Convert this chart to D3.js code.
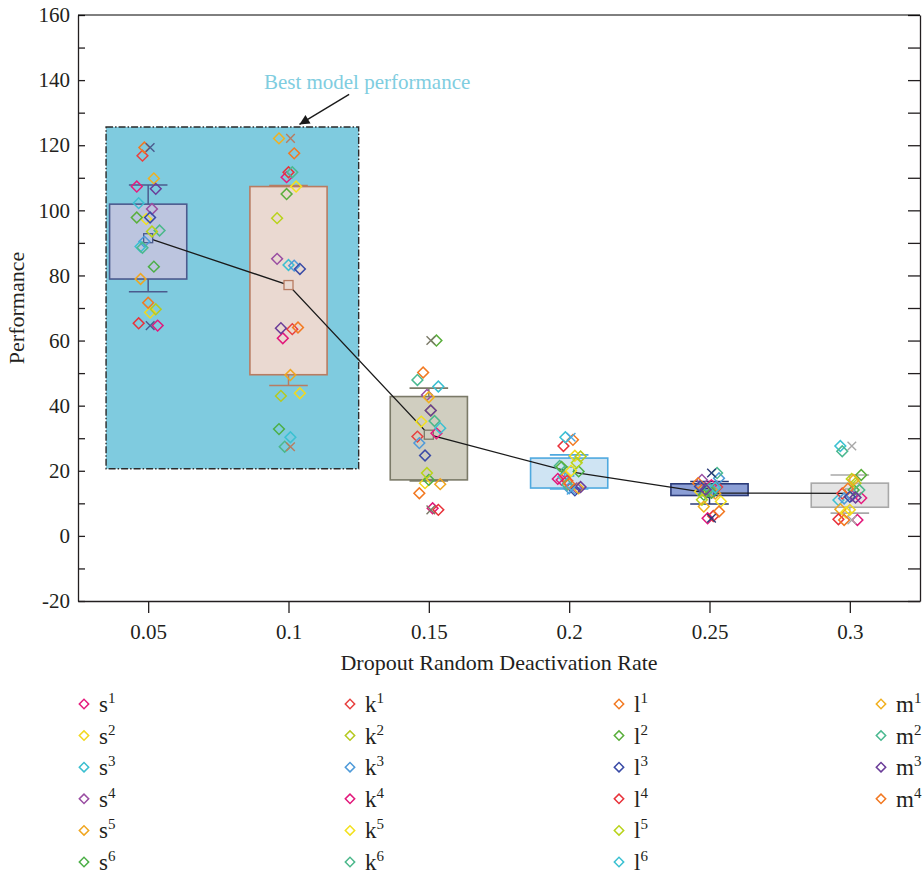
<!DOCTYPE html>
<html>
<head>
<meta charset="utf-8">
<script src="https://cdn.jsdelivr.net/npm/d3@7"></script>
<style>
  body { margin: 0; background: #fff; }
  svg text { font-family: "Liberation Serif", "Times New Roman", serif; fill: #231f20; }
</style>
</head>
<body>
<div class="chart"></div>
<script>
// dropout rates (x categories)
const rates = [0.05, 0.1, 0.15, 0.2, 0.25, 0.3]
const rateLabels = ["0.05", "0.1", "0.15", "0.2", "0.25", "0.3"]
const yTicks = d3.range(-20, 161, 10)

// one value per dropout rate, per run
const s1 = [107.3, 110.2, 31.5, 17.2, 15.6, 11.6]
const s2 = [68.6, 43.8, 16.2, 24.6, 13.6, 8.0]
const s3 = [102.2, 83.2, 45.9, 18.2, 13.8, 11.0]
const s4 = [100.4, 85.1, 43.3, 14.6, 17.2, 12.3]
const s5 = [78.9, 49.4, 15.9, 18.2, 13.0, 8.2]
const s6 = [82.7, 32.8, 17.2, 19.8, 12.6, 14.1]
const k1 = [116.8, 63.5, 30.5, 16.9, 15.0, 13.0]
const k2 = [69.6, 43.0, 38.5, 24.4, 14.0, 16.2]
const k3 = [90.4, 83.0, 28.5, 14.6, 17.7, 11.5]
const k4 = [64.6, 60.7, 8.5, 17.5, 5.4, 4.9]
const k5 = [97.3, 107.3, 35.1, 20.0, 10.6, 7.2]
const k6 = [93.8, 27.4, 35.3, 21.5, 14.5, 14.1]
const l1 = [71.6, 64.0, 50.2, 29.5, 16.2, 14.5]
const l2 = [97.8, 105.0, 60.0, 21.2, 13.2, 18.7]
const l3 = [97.8, 82.0, 24.7, 14.0, 15.2, 12.0]
const l4 = [65.3, 111.7, 8.0, 27.6, 6.1, 5.1]
const l5 = [93.5, 97.6, 19.3, 22.5, 11.1, 17.5]
const l6 = [88.9, 30.3, 33.1, 30.3, 14.8, 27.6]
const m1 = [109.8, 122.1, 42.6, 14.6, 9.0, 17.2]
const m2 = [88.5, 111.7, 47.9, 15.7, 19.3, 26.0]
const m3 = [106.6, 63.8, 38.5, 15.0, 14.2, 11.8]
const m4 = [119.3, 117.5, 13.1, 16.0, 7.5, 4.9]

// box statistics
const q1 = [78.9, 49.5, 17.2, 14.7, 12.4, 8.8]
const q3 = [101.9, 107.3, 42.8, 23.9, 16.0, 16.2]
const whiskerLow = [75.0, 46.2, 16.9, 14.4, 9.8, 7.0]
const whiskerHigh = [107.8, 107.6, 45.4, 24.9, 16.7, 18.7]

// highlighted region + note
const bestRegion = {x0: 0.035, x1: 0.125, y0: 20.6, y1: 125.6}
const note = {text: "Best model performance", x: 0.128, y: 137.2, fromX: 0.1216, fromY: 135.6, toX: 0.1039, toY: 126.4}

const series = [
  {base: "s", sup: "1", color: "#e61b7d", v: s1}, {base: "s", sup: "2", color: "#f2d81f", v: s2},
  {base: "s", sup: "3", color: "#3bbfd0", v: s3}, {base: "s", sup: "4", color: "#9a4ea2", v: s4},
  {base: "s", sup: "5", color: "#f0a620", v: s5}, {base: "s", sup: "6", color: "#4caf47", v: s6},
  {base: "k", sup: "1", color: "#e8413f", v: k1}, {base: "k", sup: "2", color: "#b6c920", v: k2},
  {base: "k", sup: "3", color: "#4e9ad9", v: k3}, {base: "k", sup: "4", color: "#e2187b", v: k4},
  {base: "k", sup: "5", color: "#f3e11d", v: k5}, {base: "k", sup: "6", color: "#4cb88b", v: k6},
  {base: "l", sup: "1", color: "#f27a22", v: l1}, {base: "l", sup: "2", color: "#5aaf3c", v: l2},
  {base: "l", sup: "3", color: "#3a4ba6", v: l3}, {base: "l", sup: "4", color: "#e8323a", v: l4},
  {base: "l", sup: "5", color: "#b9d31b", v: l5}, {base: "l", sup: "6", color: "#3bc1d2", v: l6},
  {base: "m", sup: "1", color: "#f1b01f", v: m1}, {base: "m", sup: "2", color: "#4bb991", v: m2},
  {base: "m", sup: "3", color: "#6b3d99", v: m3}, {base: "m", sup: "4", color: "#f27821", v: m4}
]
const boxFill = ["#bcc5df", "#ead9d1", "#d0cec0", "#cfe4f3", "#8c9fd6", "#e4e4e4"]
const boxStroke = ["#4b5b8e", "#b87c62", "#7b7a68", "#4fa9df", "#2b3b78", "#a8a8a8"]

const W = 924, H = 874
const plot = {left: 78, right: 920, top: 15, bottom: 601}
const svg = d3.select(".chart").append("svg").attr("width", W).attr("height", H)

const x = d3.scaleLinear().domain([0.025, 0.325]).range([plot.left, plot.right])
const y = d3.scaleLinear().domain([-20, 160]).range([plot.bottom, plot.top])
const boxHalf = (x(0.05) - x(0.025)) * 0.55
const capHalf = boxHalf * 0.5

// highlighted area
svg.append("rect")
   .attr("x", x(bestRegion.x0)).attr("y", y(bestRegion.y1))
   .attr("width", x(bestRegion.x1) - x(bestRegion.x0)).attr("height", y(bestRegion.y0) - y(bestRegion.y1))
   .attr("fill", "#7fcbdf").attr("stroke", "#2a2a2a").attr("stroke-width", 1.4)
   .attr("stroke-dasharray", "7,2,1.5,2")

// boxes + whiskers
const cols = rates.map((r, c) => {
  const vals = series.map(s => s.v[c])
  return {r, c, vals, mean: d3.mean(vals), min: d3.min(vals), max: d3.max(vals)}
})
const boxG = svg.append("g").selectAll("g").data(cols).join("g")
boxG.append("line")
    .attr("x1", d => x(d.r)).attr("x2", d => x(d.r))
    .attr("y1", d => y(whiskerHigh[d.c])).attr("y2", d => y(whiskerLow[d.c]))
    .attr("stroke", d => boxStroke[d.c]).attr("stroke-width", 1.5)
boxG.append("rect")
    .attr("x", d => x(d.r) - boxHalf).attr("width", boxHalf * 2)
    .attr("y", d => y(q3[d.c])).attr("height", d => y(q1[d.c]) - y(q3[d.c]))
    .attr("fill", d => boxFill[d.c]).attr("stroke", d => boxStroke[d.c]).attr("stroke-width", 1.6)
boxG.selectAll(".cap").data(d => [[d, whiskerHigh[d.c]], [d, whiskerLow[d.c]]]).join("line")
    .attr("class", "cap")
    .attr("x1", ([d]) => x(d.r) - capHalf).attr("x2", ([d]) => x(d.r) + capHalf)
    .attr("y1", ([, v]) => y(v)).attr("y2", ([, v]) => y(v))
    .attr("stroke", ([d]) => boxStroke[d.c]).attr("stroke-width", 1.6)

// line through the means
svg.append("path").datum(cols)
   .attr("d", d3.line().x(d => x(d.r)).y(d => y(d.mean)))
   .attr("fill", "none").attr("stroke", "#1a1a1a").attr("stroke-width", 1.3)

svg.append("g").selectAll("rect").data(cols).join("rect")
   .attr("x", d => x(d.r) - 4.5).attr("y", d => y(d.mean) - 4.5).attr("width", 9).attr("height", 9)
   .attr("fill", d => boxFill[d.c]).attr("stroke", d => boxStroke[d.c]).attr("stroke-width", 1.3)

// data points, spread sideways a little
const jitter = (i, c) => (((i * 7 + c * 5) % 13) - 6) * 1.9
const diamond = d3.symbol().type(d3.symbolSquare).size(58)
const pts = []
series.forEach((s, i) => s.v.forEach((v, c) => pts.push({i, c, v, color: s.color})))
svg.append("g").selectAll("path").data(pts).join("path")
   .attr("d", diamond)
   .attr("transform", d => `translate(${x(rates[d.c]) + jitter(d.i, d.c)},${y(d.v)}) rotate(45)`)
   .attr("fill", "none").attr("stroke", d => d.color).attr("stroke-width", 1.5)

// min / max crosses
const cross = d3.symbol().type(d3.symbolX).size(50)
svg.append("g").selectAll("path").data(cols.flatMap(d => [[d, d.min], [d, d.max]])).join("path")
   .attr("d", cross)
   .attr("transform", ([d, v]) => `translate(${x(d.r) + 2},${y(v)})`)
   .attr("fill", "none").attr("stroke", ([d]) => boxStroke[d.c]).attr("stroke-width", 1.4)

// axes
const yAxis = d3.axisLeft(y).tickValues(yTicks).tickSizeInner(-7).tickSizeOuter(0).tickPadding(8)
  .tickFormat(d => d % 20 === 0 ? d : "")
svg.append("g").attr("transform", `translate(${plot.left},0)`).call(yAxis)
   .call(g => g.selectAll("text").style("font-size", "21px"))
svg.append("g").attr("transform", `translate(${plot.right},0)`)
   .call(d3.axisRight(y).tickValues(yTicks).tickSizeInner(-12).tickSizeOuter(0).tickFormat(""))
const xAxis = d3.axisBottom(x).tickValues(rates).tickSizeInner(12).tickSizeOuter(0).tickPadding(11)
  .tickFormat((d, i) => rateLabels[i])
svg.append("g").attr("transform", `translate(0,${plot.bottom})`).call(xAxis)
   .call(g => g.selectAll("text").style("font-size", "21px"))
svg.append("line").attr("x1", plot.left).attr("x2", plot.right).attr("y1", plot.top).attr("y2", plot.top)
   .attr("stroke", "#000")
svg.selectAll(".domain, .tick line").attr("stroke", "#231f20").attr("stroke-width", 1.3)

svg.append("text").attr("x", (plot.left + plot.right) / 2).attr("y", 670).attr("text-anchor", "middle")
   .style("font-size", "22px").text("Dropout Random Deactivation Rate")
svg.append("text").attr("transform", `translate(24,${(plot.top + plot.bottom) / 2}) rotate(-90)`)
   .attr("text-anchor", "middle").style("font-size", "22px").text("Performance")

// annotation
svg.append("defs").append("marker").attr("id", "arrow").attr("viewBox", "0 0 10 10")
   .attr("refX", 10).attr("refY", 5).attr("markerWidth", 16).attr("markerHeight", 10)
   .attr("markerUnits", "userSpaceOnUse").attr("orient", "auto")
   .append("path").attr("d", "M0,0L10,5L0,10z").attr("fill", "#1a1a1a")
svg.append("line")
   .attr("x1", x(note.fromX)).attr("y1", y(note.fromY)).attr("x2", x(note.toX)).attr("y2", y(note.toY))
   .attr("stroke", "#1a1a1a").attr("stroke-width", 1.4).attr("marker-end", "url(#arrow)")
svg.append("text").attr("x", x(note.x)).attr("y", y(note.y)).attr("text-anchor", "middle")
   .style("font-size", "21px").style("fill", "#80cde0").text(note.text)

// legend, one column per letter
const legendX = {s: 84, k: 350, l: 619, m: 881}
const legend = svg.append("g").selectAll("g").data(series).join("g")
  .attr("transform", d => `translate(${legendX[d.base]},${704 + (+d.sup - 1) * 31.6})`)
legend.append("path").attr("d", d3.symbol().type(d3.symbolSquare).size(44)).attr("transform", "rotate(45)")
  .attr("fill", "none").attr("stroke", d => d.color).attr("stroke-width", 1.5)
const lt = legend.append("text").attr("x", 15).attr("y", 8).style("font-size", "23px")
lt.append("tspan").text(d => d.base)
lt.append("tspan").attr("dy", -9).style("font-size", "15px").text(d => d.sup)
</script>
</body>
</html>
